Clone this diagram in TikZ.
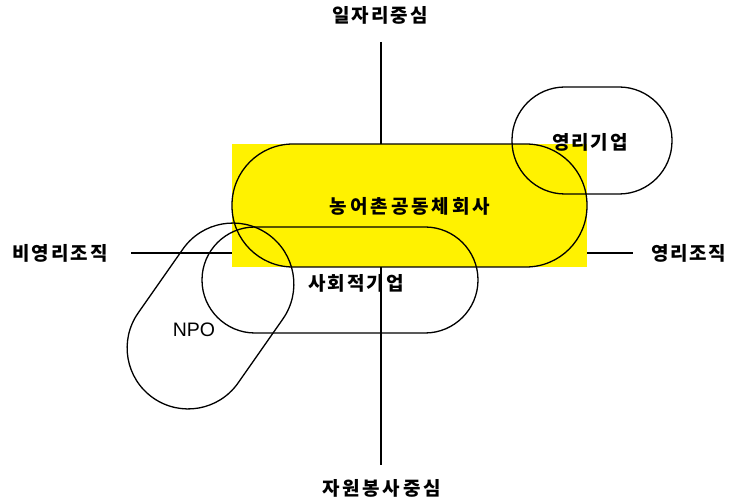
\documentclass[tikz,border=0pt]{standalone}
\usepackage{fontspec}
\setmainfont{Liberation Sans}
\newfontfamily\kr{Noto Sans CJK KR}
\newlength\chsp
\setlength\chsp{2pt}
\makeatletter
\newcommand\spaced[1]{\@tfor\sp@c:=#1\do{\sp@c\hspace{\chsp}}\unskip}
\makeatother
\begin{document}
\begin{tikzpicture}[x=1pt,y=-1pt,
  lbl/.style={font=\kr\bfseries\fontsize{19}{21}\selectfont, inner sep=0pt},
  latin/.style={font=\fontsize{19.5}{21}\selectfont, inner sep=0pt},
  outline/.style={draw=black, line width=1.3pt},
  axis/.style={draw=black, line width=1.3pt}]
\useasboundingbox (0,0) rectangle (732,502);
% axes
\coordinate (vt) at (381,42);
\coordinate (vb) at (381,465);
\coordinate (hl) at (131,253);
\coordinate (hr) at (633,253);
\draw[axis] (vt) -- (vb);
\draw[axis] (hl) -- (hr);
% yellow area
\fill[yellow] (232,144) rectangle (587,267);
% outlines
\draw[outline, rounded corners=61pt] (232,144) rectangle (587,267);
\draw[outline, rounded corners=53pt] (202,227) rectangle (478,333);
\draw[outline, rounded corners=53pt] (512,87) rectangle (672,194);
\begin{scope}[shift={(210.5,316)}, rotate=55]
  \draw[outline, rounded corners=61pt] (-100,-61) rectangle (100,61);
\end{scope}
% labels
\node[lbl] (top) at (380,15) {\spaced{일자리중심}};
\node[lbl] (bottom) at (381.5,488) {\setlength\chsp{2.8pt}\spaced{자원봉사중심}};
\node[lbl] (left) at (60,253) {\spaced{비영리조직}};
\node[lbl] (right) at (689,253) {\setlength\chsp{1.5pt}\spaced{영리조직}};
\node[lbl] (coop) at (410,206) {\setlength\chsp{3pt}\spaced{농어촌공동체회사}};
\node[lbl] (social) at (356,283) {\spaced{사회적기업}};
\node[lbl] (profit) at (590,142) {\spaced{영리기업}};
\node[latin] (npo) at (194,330) {NPO};
\end{tikzpicture}
\end{document}
